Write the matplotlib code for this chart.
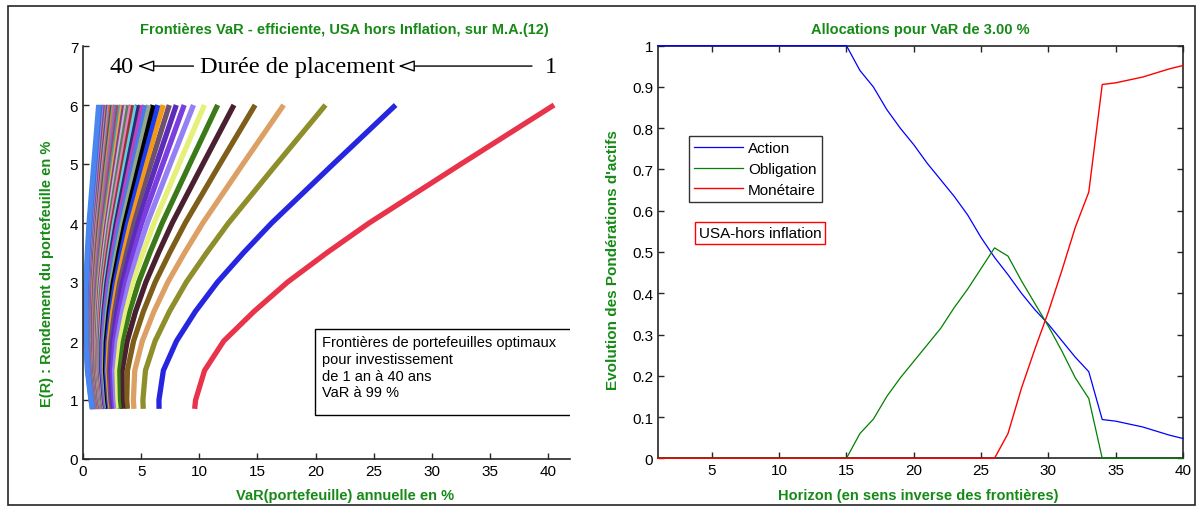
import matplotlib
matplotlib.use("Agg")
import matplotlib.pyplot as plt
from matplotlib.patches import Rectangle

plt.rcParams['font.family'] = ['Liberation Sans', 'DejaVu Sans']

# ---- left panel : VaR frontiers, one row per duration (1 .. 40 years)
rendement = [0.85, 1.0, 1.5, 2.0, 2.5, 3.0, 3.5, 4.0, 5.0, 6.0]
var_frontieres = [
    [9.60, 9.68, 10.45, 12.10, 14.70, 17.60, 21.00, 24.60, 32.50, 40.50],
    [6.54, 6.53, 6.91, 8.04, 9.66, 11.57, 13.82, 16.22, 21.52, 26.88],
    [5.18, 5.15, 5.37, 6.20, 7.43, 8.89, 10.65, 12.51, 16.65, 20.85],
    [4.38, 4.33, 4.45, 5.10, 6.10, 7.30, 8.75, 10.30, 13.75, 17.25],
    [3.82, 3.76, 3.82, 4.35, 5.19, 6.21, 7.46, 8.79, 11.77, 14.80],
    [3.42, 3.35, 3.36, 3.80, 4.52, 5.41, 6.50, 7.67, 10.31, 12.98],
    [3.10, 3.03, 3.00, 3.37, 4.00, 4.79, 5.76, 6.81, 9.18, 11.58],
    [2.85, 2.77, 2.71, 3.02, 3.58, 4.28, 5.16, 6.11, 8.26, 10.44],
    [2.63, 2.55, 2.47, 2.73, 3.23, 3.87, 4.67, 5.53, 7.50, 9.50],
    [2.45, 2.37, 2.26, 2.49, 2.94, 3.51, 4.25, 5.04, 6.86, 8.70],
    [2.30, 2.21, 2.09, 2.28, 2.69, 3.21, 3.89, 4.62, 6.31, 8.02],
    [2.17, 2.07, 1.94, 2.10, 2.47, 2.95, 3.57, 4.26, 5.83, 7.42],
    [2.05, 1.95, 1.80, 1.94, 2.27, 2.71, 3.30, 3.93, 5.40, 6.90],
    [1.94, 1.85, 1.68, 1.80, 2.10, 2.51, 3.05, 3.64, 5.02, 6.43],
    [1.85, 1.75, 1.57, 1.67, 1.94, 2.32, 2.83, 3.38, 4.68, 6.01],
    [1.76, 1.66, 1.48, 1.55, 1.80, 2.15, 2.63, 3.15, 4.38, 5.63],
    [1.68, 1.58, 1.39, 1.44, 1.67, 2.00, 2.44, 2.94, 4.09, 5.28],
    [1.61, 1.51, 1.30, 1.35, 1.55, 1.86, 2.27, 2.74, 3.84, 4.96],
    [1.55, 1.44, 1.23, 1.26, 1.45, 1.73, 2.12, 2.56, 3.60, 4.67],
    [1.49, 1.38, 1.16, 1.18, 1.35, 1.61, 1.98, 2.40, 3.39, 4.40],
    [1.43, 1.32, 1.10, 1.10, 1.25, 1.50, 1.85, 2.24, 3.18, 4.15],
    [1.38, 1.27, 1.04, 1.03, 1.17, 1.39, 1.72, 2.10, 3.00, 3.91],
    [1.33, 1.22, 0.98, 0.96, 1.09, 1.30, 1.61, 1.96, 2.82, 3.70],
    [1.28, 1.17, 0.93, 0.90, 1.01, 1.20, 1.50, 1.84, 2.65, 3.49],
    [1.24, 1.13, 0.88, 0.84, 0.94, 1.12, 1.40, 1.72, 2.50, 3.30],
    [1.20, 1.09, 0.83, 0.78, 0.87, 1.04, 1.30, 1.61, 2.35, 3.12],
    [1.16, 1.05, 0.79, 0.73, 0.81, 0.97, 1.22, 1.51, 2.22, 2.95],
    [1.13, 1.01, 0.75, 0.68, 0.75, 0.89, 1.13, 1.41, 2.09, 2.79],
    [1.09, 0.98, 0.71, 0.64, 0.69, 0.83, 1.05, 1.31, 1.96, 2.64],
    [1.06, 0.94, 0.67, 0.59, 0.64, 0.76, 0.97, 1.22, 1.85, 2.49],
    [1.03, 0.91, 0.64, 0.55, 0.59, 0.70, 0.90, 1.14, 1.74, 2.35],
    [1.00, 0.88, 0.60, 0.51, 0.54, 0.64, 0.83, 1.06, 1.63, 2.22],
    [0.97, 0.85, 0.57, 0.47, 0.49, 0.59, 0.77, 0.98, 1.53, 2.10],
    [0.94, 0.83, 0.54, 0.44, 0.45, 0.53, 0.70, 0.90, 1.43, 1.97],
    [0.92, 0.80, 0.51, 0.40, 0.41, 0.48, 0.64, 0.83, 1.34, 1.86],
    [0.89, 0.78, 0.48, 0.37, 0.37, 0.43, 0.58, 0.77, 1.25, 1.75],
    [0.87, 0.75, 0.46, 0.33, 0.33, 0.39, 0.53, 0.70, 1.17, 1.65],
    [0.85, 0.73, 0.43, 0.30, 0.29, 0.34, 0.47, 0.64, 1.08, 1.54],
    [0.82, 0.71, 0.41, 0.27, 0.25, 0.30, 0.42, 0.58, 1.00, 1.45],
    [0.80, 0.68, 0.38, 0.25, 0.22, 0.26, 0.37, 0.52, 0.93, 1.35],
]
couleurs = [
    '#e8334a', '#2626e0', '#8e8e2a', '#dca064', '#7e5e18', '#4a2030',
    '#3a7a18', '#e4f078', '#9480f4', '#7a3ee0', '#5a2cb8', '#6e5070',
    '#f39a14', '#1e3cf2', '#000000', '#94a88a', '#4a7ae8', '#c040c0',
    '#2b2b70', '#60d0e0', '#a03030', '#e080c0', '#508050', '#c8b0e0',
    '#804080', '#f0a040', '#40a0a0', '#b04060', '#7070d0', '#d06090',
    '#a0a040', '#405090', '#e06040', '#70b0e0', '#903070', '#c09060',
    '#5050c0', '#d070d0', '#3070c0', '#4a86f0',
]

# ---- right panel : allocations for VaR 3.00 %
horizon = list(range(1, 41))
action = [1.0] * 15 + [0.94, 0.90, 0.845, 0.80, 0.76, 0.715, 0.675, 0.635,
                       0.59, 0.535, 0.487, 0.445, 0.40, 0.36, 0.325, 0.285,
                       0.245, 0.21, 0.094, 0.09, 0.083, 0.076, 0.066, 0.056,
                       0.048]
obligation = [0.0] * 15 + [0.06, 0.095, 0.15, 0.195, 0.235, 0.275, 0.315,
                           0.365, 0.41, 0.46, 0.51, 0.49, 0.43, 0.375, 0.32,
                           0.26, 0.195, 0.145, 0.0, 0.0, 0.0, 0.0, 0.0, 0.0,
                           0.0]
monetaire = [0.0] * 26 + [0.06, 0.17, 0.265, 0.355, 0.455, 0.56, 0.645,
                          0.906, 0.91, 0.917, 0.924, 0.934, 0.944, 0.952]

vert = '#168a16'
gris = '#262626'
W, H = 1201, 510

fig = plt.figure(figsize=(W / 100, H / 100), dpi=100)
fig.patches.append(Rectangle((8 / W, 1 - 506 / H), 1187 / W, 499 / H,
                             transform=fig.transFigure, fill=False,
                             ec=gris, lw=1.2))

# left axes
ax1 = fig.add_axes([83 / W, 1 - 460 / H, 487 / W, 413 / H])
for k, row in enumerate(var_frontieres):
    ax1.plot(row, rendement, color=couleurs[k], lw=3.8, solid_capstyle='butt',
             solid_joinstyle='round')
ax1.set_xlim(0, 41.87)
ax1.set_ylim(0, 7)
ax1.set_xticks(range(0, 41, 5))
ax1.set_yticks(range(0, 8))
ax1.spines['top'].set_visible(False)
ax1.spines['right'].set_visible(False)
for s in ('left', 'bottom'):
    ax1.spines[s].set_color(gris)
    ax1.spines[s].set_linewidth(1.2)
ax1.tick_params(direction='in', length=4, labelsize=11, color=gris, width=1)

ax1.add_patch(Rectangle((19.95, 0.75), 30, 1.45, fc='white', ec='black',
                        lw=1.0, zorder=5))
ax1.text(20.55, 2.1, "Frontières de portefeuilles optimaux\npour investissement\n"
         "de 1 an à 40 ans\nVaR à 99 %", fontsize=10.5, va='top', ha='left',
         linespacing=1.25, zorder=6, clip_on=True)

serif = ['Liberation Serif', 'DejaVu Serif']
ax1.text(3.3, 6.66, "40", family=serif, fontsize=17.5, ha='center', va='center')
ax1.text(18.4, 6.66, "Durée de placement", family=serif, fontsize=17.5,
         ha='center', va='center')
ax1.text(40.2, 6.66, "1", family=serif, fontsize=17.5, ha='center', va='center')
fleche = dict(arrowstyle='-|>,head_length=1.0,head_width=0.35', fc='white',
              ec='black', lw=1.0, shrinkA=0, shrinkB=0)
ax1.annotate("", xy=(4.7, 6.66), xytext=(9.5, 6.66), arrowprops=fleche)
ax1.annotate("", xy=(27.1, 6.66), xytext=(38.6, 6.66), arrowprops=fleche)

fig.text(344 / W, 1 - 30 / H,
         "Frontières VaR - efficiente, USA hors Inflation, sur M.A.(12)",
         color=vert, fontsize=10.5, fontweight='bold', ha='center', va='center')
fig.text(345 / W, 1 - 496 / H, "VaR(portefeuille) annuelle en %", color=vert,
         fontsize=10.5, fontweight='bold', ha='center', va='center')
fig.text(47 / W, 1 - 274 / H, "E(R) : Rendement du portefeuille en %",
         color=vert, fontsize=10.5, fontweight='bold', ha='center',
         va='center', rotation=90)

# right axes
ax2 = fig.add_axes([658 / W, 1 - 459.3 / H, 525 / W, 412.6 / H])
ax2.plot(horizon, action, color='#0000ff', lw=0.9, label='Action',
         zorder=3, clip_on=False)
ax2.plot(horizon, obligation, color='#008000', lw=0.9, label='Obligation',
         zorder=3, clip_on=False)
ax2.plot(horizon, monetaire, color='#ff0000', lw=1.0, label='Monétaire',
         zorder=3, clip_on=False)
ax2.set_xlim(1, 40)
ax2.set_ylim(0, 1)
ax2.set_xticks(range(5, 41, 5))
ax2.set_yticks([i / 10 for i in range(11)])
ax2.set_yticklabels(['0'] + ['0.%d' % i for i in range(1, 10)] + ['1'])
for s in ax2.spines.values():
    s.set_color(gris)
    s.set_linewidth(1.2)
ax2.tick_params(direction='in', length=4, labelsize=11, color=gris, width=1,
                top=True, right=True)
leg = ax2.legend(loc='upper left', bbox_to_anchor=(31 / 525, 1 - 90 / 412.6),
                 fontsize=11, frameon=True, fancybox=False, edgecolor='black',
                 borderpad=0.35, handlelength=3.2, handletextpad=0.3,
                 labelspacing=0.45, borderaxespad=0)
leg.get_frame().set_linewidth(1.0)
leg.set_zorder(5)
ax2.text(699 / W, 1 - 234 / H, "USA-hors inflation", transform=fig.transFigure,
         fontsize=11, ha='left', va='center',
         bbox=dict(boxstyle='square,pad=0.25', fc='white', ec='#ff0000', lw=1.0))

fig.text(920 / W, 1 - 30 / H, "Allocations pour VaR de 3.00 %", color=vert,
         fontsize=10.5, fontweight='bold', ha='center', va='center')
fig.text(918 / W, 1 - 496 / H, "Horizon (en sens inverse des frontières)",
         color=vert, fontsize=10.5, fontweight='bold', ha='center', va='center')
fig.text(613 / W, 1 - 260 / H, "Evolution des Pondérations d'actifs",
         color=vert, fontsize=11, fontweight='bold', ha='center',
         va='center', rotation=90)

fig.savefig("out.png", dpi=100)
